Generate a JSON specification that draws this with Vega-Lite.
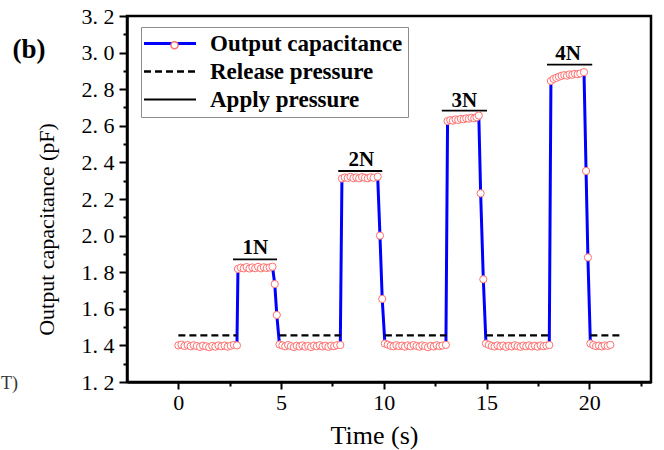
{
"$schema": "https://vega.github.io/schema/vega-lite/v6.json",
"width": 524, "height": 366,
"autosize": {"type": "none"},
"padding": {"left": 127, "top": 16, "right": 13, "bottom": 68},
"background": "white",
"config": {
  "font": "Liberation Serif",
  "view": {"stroke": "black", "strokeWidth": 2.5},
  "axis": {"grid": false, "domainColor": "black", "tickColor": "black", "labelColor": "black", "titleColor": "black", "labelFont": "Liberation Serif", "titleFont": "Liberation Serif", "titleFontWeight": "normal", "labelOverlap": false, "labelFlush": false}
},
"datasets": {
  "lines": [
    {"s":"Output capacitance","g":"c","t":0,"c":1.400},
    {"s":"Output capacitance","g":"c","t":0.15,"c":1.404},
    {"s":"Output capacitance","g":"c","t":0.3,"c":1.397},
    {"s":"Output capacitance","g":"c","t":0.45,"c":1.402},
    {"s":"Output capacitance","g":"c","t":0.6,"c":1.395},
    {"s":"Output capacitance","g":"c","t":0.75,"c":1.401},
    {"s":"Output capacitance","g":"c","t":0.9,"c":1.396},
    {"s":"Output capacitance","g":"c","t":1.05,"c":1.392},
    {"s":"Output capacitance","g":"c","t":1.2,"c":1.399},
    {"s":"Output capacitance","g":"c","t":1.35,"c":1.395},
    {"s":"Output capacitance","g":"c","t":1.5,"c":1.390},
    {"s":"Output capacitance","g":"c","t":1.65,"c":1.397},
    {"s":"Output capacitance","g":"c","t":1.8,"c":1.393},
    {"s":"Output capacitance","g":"c","t":1.95,"c":1.400},
    {"s":"Output capacitance","g":"c","t":2.1,"c":1.395},
    {"s":"Output capacitance","g":"c","t":2.25,"c":1.399},
    {"s":"Output capacitance","g":"c","t":2.4,"c":1.393},
    {"s":"Output capacitance","g":"c","t":2.55,"c":1.398},
    {"s":"Output capacitance","g":"c","t":2.7,"c":1.403},
    {"s":"Output capacitance","g":"c","t":2.85,"c":1.400},
    {"s":"Output capacitance","g":"c","t":2.9,"c":1.818},
    {"s":"Output capacitance","g":"c","t":3.04,"c":1.825},
    {"s":"Output capacitance","g":"c","t":3.18,"c":1.821},
    {"s":"Output capacitance","g":"c","t":3.32,"c":1.828},
    {"s":"Output capacitance","g":"c","t":3.46,"c":1.820},
    {"s":"Output capacitance","g":"c","t":3.6,"c":1.826},
    {"s":"Output capacitance","g":"c","t":3.74,"c":1.822},
    {"s":"Output capacitance","g":"c","t":3.88,"c":1.829},
    {"s":"Output capacitance","g":"c","t":4.02,"c":1.821},
    {"s":"Output capacitance","g":"c","t":4.16,"c":1.827},
    {"s":"Output capacitance","g":"c","t":4.3,"c":1.823},
    {"s":"Output capacitance","g":"c","t":4.44,"c":1.826},
    {"s":"Output capacitance","g":"c","t":4.58,"c":1.830},
    {"s":"Output capacitance","g":"c","t":4.69,"c":1.735},
    {"s":"Output capacitance","g":"c","t":4.79,"c":1.566},
    {"s":"Output capacitance","g":"c","t":4.92,"c":1.405},
    {"s":"Output capacitance","g":"c","t":5.06,"c":1.400},
    {"s":"Output capacitance","g":"c","t":5.2,"c":1.395},
    {"s":"Output capacitance","g":"c","t":5.34,"c":1.402},
    {"s":"Output capacitance","g":"c","t":5.48,"c":1.396},
    {"s":"Output capacitance","g":"c","t":5.62,"c":1.391},
    {"s":"Output capacitance","g":"c","t":5.76,"c":1.398},
    {"s":"Output capacitance","g":"c","t":5.9,"c":1.394},
    {"s":"Output capacitance","g":"c","t":6.04,"c":1.400},
    {"s":"Output capacitance","g":"c","t":6.18,"c":1.393},
    {"s":"Output capacitance","g":"c","t":6.32,"c":1.397},
    {"s":"Output capacitance","g":"c","t":6.46,"c":1.391},
    {"s":"Output capacitance","g":"c","t":6.6,"c":1.399},
    {"s":"Output capacitance","g":"c","t":6.74,"c":1.395},
    {"s":"Output capacitance","g":"c","t":6.88,"c":1.401},
    {"s":"Output capacitance","g":"c","t":7.02,"c":1.394},
    {"s":"Output capacitance","g":"c","t":7.16,"c":1.398},
    {"s":"Output capacitance","g":"c","t":7.3,"c":1.392},
    {"s":"Output capacitance","g":"c","t":7.44,"c":1.399},
    {"s":"Output capacitance","g":"c","t":7.58,"c":1.396},
    {"s":"Output capacitance","g":"c","t":7.72,"c":1.401},
    {"s":"Output capacitance","g":"c","t":7.88,"c":1.402},
    {"s":"Output capacitance","g":"c","t":7.96,"c":2.312},
    {"s":"Output capacitance","g":"c","t":8.1,"c":2.318},
    {"s":"Output capacitance","g":"c","t":8.24,"c":2.315},
    {"s":"Output capacitance","g":"c","t":8.38,"c":2.321},
    {"s":"Output capacitance","g":"c","t":8.52,"c":2.314},
    {"s":"Output capacitance","g":"c","t":8.66,"c":2.318},
    {"s":"Output capacitance","g":"c","t":8.8,"c":2.313},
    {"s":"Output capacitance","g":"c","t":8.94,"c":2.320},
    {"s":"Output capacitance","g":"c","t":9.08,"c":2.316},
    {"s":"Output capacitance","g":"c","t":9.22,"c":2.313},
    {"s":"Output capacitance","g":"c","t":9.36,"c":2.319},
    {"s":"Output capacitance","g":"c","t":9.5,"c":2.316},
    {"s":"Output capacitance","g":"c","t":9.7,"c":2.322},
    {"s":"Output capacitance","g":"c","t":9.81,"c":2.000},
    {"s":"Output capacitance","g":"c","t":9.92,"c":1.654},
    {"s":"Output capacitance","g":"c","t":10.05,"c":1.410},
    {"s":"Output capacitance","g":"c","t":10.19,"c":1.404},
    {"s":"Output capacitance","g":"c","t":10.33,"c":1.398},
    {"s":"Output capacitance","g":"c","t":10.47,"c":1.395},
    {"s":"Output capacitance","g":"c","t":10.61,"c":1.401},
    {"s":"Output capacitance","g":"c","t":10.75,"c":1.396},
    {"s":"Output capacitance","g":"c","t":10.89,"c":1.399},
    {"s":"Output capacitance","g":"c","t":11.03,"c":1.393},
    {"s":"Output capacitance","g":"c","t":11.17,"c":1.400},
    {"s":"Output capacitance","g":"c","t":11.31,"c":1.395},
    {"s":"Output capacitance","g":"c","t":11.45,"c":1.402},
    {"s":"Output capacitance","g":"c","t":11.59,"c":1.397},
    {"s":"Output capacitance","g":"c","t":11.73,"c":1.393},
    {"s":"Output capacitance","g":"c","t":11.87,"c":1.400},
    {"s":"Output capacitance","g":"c","t":12.01,"c":1.396},
    {"s":"Output capacitance","g":"c","t":12.15,"c":1.390},
    {"s":"Output capacitance","g":"c","t":12.29,"c":1.398},
    {"s":"Output capacitance","g":"c","t":12.43,"c":1.394},
    {"s":"Output capacitance","g":"c","t":12.57,"c":1.401},
    {"s":"Output capacitance","g":"c","t":12.71,"c":1.396},
    {"s":"Output capacitance","g":"c","t":12.85,"c":1.399},
    {"s":"Output capacitance","g":"c","t":13.02,"c":1.403},
    {"s":"Output capacitance","g":"c","t":13.1,"c":2.626},
    {"s":"Output capacitance","g":"c","t":13.23,"c":2.631},
    {"s":"Output capacitance","g":"c","t":13.36,"c":2.628},
    {"s":"Output capacitance","g":"c","t":13.49,"c":2.635},
    {"s":"Output capacitance","g":"c","t":13.62,"c":2.632},
    {"s":"Output capacitance","g":"c","t":13.75,"c":2.638},
    {"s":"Output capacitance","g":"c","t":13.88,"c":2.636},
    {"s":"Output capacitance","g":"c","t":14.01,"c":2.641},
    {"s":"Output capacitance","g":"c","t":14.14,"c":2.639},
    {"s":"Output capacitance","g":"c","t":14.27,"c":2.644},
    {"s":"Output capacitance","g":"c","t":14.4,"c":2.641},
    {"s":"Output capacitance","g":"c","t":14.51,"c":2.647},
    {"s":"Output capacitance","g":"c","t":14.62,"c":2.656},
    {"s":"Output capacitance","g":"c","t":14.71,"c":2.231},
    {"s":"Output capacitance","g":"c","t":14.84,"c":1.761},
    {"s":"Output capacitance","g":"c","t":14.97,"c":1.410},
    {"s":"Output capacitance","g":"c","t":15.11,"c":1.403},
    {"s":"Output capacitance","g":"c","t":15.25,"c":1.397},
    {"s":"Output capacitance","g":"c","t":15.39,"c":1.394},
    {"s":"Output capacitance","g":"c","t":15.53,"c":1.400},
    {"s":"Output capacitance","g":"c","t":15.67,"c":1.395},
    {"s":"Output capacitance","g":"c","t":15.81,"c":1.399},
    {"s":"Output capacitance","g":"c","t":15.95,"c":1.392},
    {"s":"Output capacitance","g":"c","t":16.09,"c":1.398},
    {"s":"Output capacitance","g":"c","t":16.23,"c":1.394},
    {"s":"Output capacitance","g":"c","t":16.37,"c":1.401},
    {"s":"Output capacitance","g":"c","t":16.51,"c":1.396},
    {"s":"Output capacitance","g":"c","t":16.65,"c":1.392},
    {"s":"Output capacitance","g":"c","t":16.79,"c":1.399},
    {"s":"Output capacitance","g":"c","t":16.93,"c":1.395},
    {"s":"Output capacitance","g":"c","t":17.07,"c":1.400},
    {"s":"Output capacitance","g":"c","t":17.21,"c":1.394},
    {"s":"Output capacitance","g":"c","t":17.35,"c":1.398},
    {"s":"Output capacitance","g":"c","t":17.49,"c":1.393},
    {"s":"Output capacitance","g":"c","t":17.63,"c":1.400},
    {"s":"Output capacitance","g":"c","t":17.77,"c":1.396},
    {"s":"Output capacitance","g":"c","t":17.91,"c":1.399},
    {"s":"Output capacitance","g":"c","t":18.05,"c":1.402},
    {"s":"Output capacitance","g":"c","t":18.13,"c":2.845},
    {"s":"Output capacitance","g":"c","t":18.26,"c":2.856},
    {"s":"Output capacitance","g":"c","t":18.39,"c":2.862},
    {"s":"Output capacitance","g":"c","t":18.52,"c":2.868},
    {"s":"Output capacitance","g":"c","t":18.65,"c":2.873},
    {"s":"Output capacitance","g":"c","t":18.78,"c":2.877},
    {"s":"Output capacitance","g":"c","t":18.91,"c":2.874},
    {"s":"Output capacitance","g":"c","t":19.04,"c":2.881},
    {"s":"Output capacitance","g":"c","t":19.17,"c":2.879},
    {"s":"Output capacitance","g":"c","t":19.3,"c":2.884},
    {"s":"Output capacitance","g":"c","t":19.43,"c":2.882},
    {"s":"Output capacitance","g":"c","t":19.56,"c":2.886},
    {"s":"Output capacitance","g":"c","t":19.74,"c":2.893},
    {"s":"Output capacitance","g":"c","t":19.84,"c":2.353},
    {"s":"Output capacitance","g":"c","t":19.93,"c":1.881},
    {"s":"Output capacitance","g":"c","t":20.05,"c":1.410},
    {"s":"Output capacitance","g":"c","t":20.19,"c":1.402},
    {"s":"Output capacitance","g":"c","t":20.33,"c":1.396},
    {"s":"Output capacitance","g":"c","t":20.47,"c":1.399},
    {"s":"Output capacitance","g":"c","t":20.61,"c":1.394},
    {"s":"Output capacitance","g":"c","t":20.75,"c":1.400},
    {"s":"Output capacitance","g":"c","t":20.89,"c":1.397},
    {"s":"Output capacitance","g":"c","t":21.02,"c":1.403},
    {"s":"Release pressure","g":"r1","t":0,"c":1.455},
    {"s":"Release pressure","g":"r1","t":2.85,"c":1.455},
    {"s":"Release pressure","g":"r2","t":4.92,"c":1.455},
    {"s":"Release pressure","g":"r2","t":7.9,"c":1.455},
    {"s":"Release pressure","g":"r3","t":10.05,"c":1.455},
    {"s":"Release pressure","g":"r3","t":13.05,"c":1.455},
    {"s":"Release pressure","g":"r4","t":14.97,"c":1.455},
    {"s":"Release pressure","g":"r4","t":18.05,"c":1.455},
    {"s":"Release pressure","g":"r5","t":20.05,"c":1.455},
    {"s":"Release pressure","g":"r5","t":21.65,"c":1.455},
    {"s":"Apply pressure","g":"a1","t":2.66,"c":1.870},
    {"s":"Apply pressure","g":"a1","t":4.8,"c":1.870},
    {"s":"Apply pressure","g":"a2","t":7.78,"c":2.353},
    {"s":"Apply pressure","g":"a2","t":9.92,"c":2.353},
    {"s":"Apply pressure","g":"a3","t":12.82,"c":2.683},
    {"s":"Apply pressure","g":"a3","t":15.02,"c":2.683},
    {"s":"Apply pressure","g":"a4","t":17.94,"c":2.934},
    {"s":"Apply pressure","g":"a4","t":20.14,"c":2.934}
  ],
  "labels": [
    {"lab":"1N","t":3.74,"c":1.899},
    {"lab":"2N","t":8.9,"c":2.380},
    {"lab":"3N","t":13.91,"c":2.704},
    {"lab":"4N","t":18.97,"c":2.960}
  ]
},
"layer": [
  {
    "data": {"name": "lines"},
    "mark": {"type": "line", "strokeCap": "butt"},
    "encoding": {
      "x": {"field": "t", "type": "quantitative", "scale": {"domain": [-2.5, 23], "nice": false, "zero": false},
        "axis": {"orient": "bottom", "values": [0, 5, 10, 15, 20], "format": "d", "tickSize": 7, "tickWidth": 2, "domainWidth": 2.5, "labelFontSize": 22, "labelPadding": 3, "title": "Time (s)", "titleFontSize": 26, "titleX": 247, "titleY": 61, "titleBaseline": "alphabetic", "titleAlign": "center"}},
      "y": {"field": "c", "type": "quantitative", "scale": {"domain": [1.2, 3.2], "nice": false, "zero": false},
        "axis": {"orient": "left", "values": [1.2, 1.4, 1.6, 1.8, 2.0, 2.2, 2.4, 2.6, 2.8, 3.0, 3.2], "labelExpr": "replace(format(datum.value, '.1f'), '.', '. ')", "tickSize": 8, "tickWidth": 2, "domainWidth": 2.5, "labelFontSize": 22, "labelPadding": 5, "title": "Output capacitance (pF)", "titleFontSize": 22, "titleX": -74, "titleY": 213, "titleAngle": 270, "titleBaseline": "alphabetic", "titleAlign": "center"}},
      "color": {"field": "s", "type": "nominal", "scale": {"domain": ["Output capacitance", "Release pressure", "Apply pressure"], "range": ["#0000ff", "#000000", "#000000"]},
        "legend": {"orient": "none", "legendX": 14, "legendY": 11, "title": null, "direction": "vertical", "strokeColor": "#8c8c8c", "fillColor": "white", "padding": 5, "rowPadding": 4, "labelFont": "Liberation Serif", "labelFontWeight": "bold", "labelFontSize": 23, "labelColor": "black", "labelLimit": 400, "symbolType": "M-4,0L4,0", "symbolSize": 169,
          "encode": {"symbols": {"update": {"x": {"value": 24}, "size": {"value": 169}}}, "labels": {"update": {"x": {"value": 64}}}}}},
      "strokeDash": {"field": "s", "type": "nominal", "scale": {"domain": ["Output capacitance", "Release pressure", "Apply pressure"], "range": [[1, 0], [7, 4], [1, 0]]},
        "legend": {"orient": "none", "legendX": 14, "legendY": 11, "title": null, "direction": "vertical", "strokeColor": "#8c8c8c", "fillColor": "white", "padding": 5, "rowPadding": 4, "labelFont": "Liberation Serif", "labelFontWeight": "bold", "labelFontSize": 23, "labelColor": "black", "labelLimit": 400, "symbolType": "M-4,0L4,0", "symbolSize": 169,
          "encode": {"symbols": {"update": {"x": {"value": 24}, "size": {"value": 169}}}, "labels": {"update": {"x": {"value": 64}}}}}},
      "strokeWidth": {"field": "s", "type": "nominal", "scale": {"domain": ["Output capacitance", "Release pressure", "Apply pressure"], "range": [3, 1.8, 2]},
        "legend": {"orient": "none", "legendX": 14, "legendY": 11, "title": null, "direction": "vertical", "strokeColor": "#8c8c8c", "fillColor": "white", "padding": 5, "rowPadding": 4, "labelFont": "Liberation Serif", "labelFontWeight": "bold", "labelFontSize": 23, "labelColor": "black", "labelLimit": 400, "symbolType": "M-4,0L4,0", "symbolSize": 169,
          "encode": {"symbols": {"update": {"x": {"value": 24}, "size": {"value": 169}}}, "labels": {"update": {"x": {"value": 64}}}}}},
      "detail": {"field": "g", "type": "nominal"}
    }
  },
  {
    "data": {"name": "lines"},
    "transform": [{"filter": "datum.s === 'Output capacitance'"}],
    "mark": {"type": "point", "shape": "circle", "filled": true, "fill": "white", "stroke": "#ff7070", "strokeWidth": 1, "size": 52, "opacity": 1},
    "encoding": {
      "x": {"field": "t", "type": "quantitative", "scale": {"domain": [-2.5, 23], "nice": false, "zero": false},
        "axis": {"orient": "bottom", "values": [2.5, 7.5, 12.5, 17.5, 22.5], "labels": false, "domain": false, "tickSize": 4, "tickWidth": 2, "title": null}},
      "y": {"field": "c", "type": "quantitative", "scale": {"domain": [1.2, 3.2], "nice": false, "zero": false},
        "axis": {"orient": "left", "values": [1.3, 1.5, 1.7, 1.9, 2.1, 2.3, 2.5, 2.7, 2.9, 3.1], "labels": false, "domain": false, "tickSize": 4, "tickWidth": 2, "title": null}},
      "shape": {"field": "s", "type": "nominal", "scale": {"domain": ["Output capacitance"], "range": ["circle"]},
        "legend": {"orient": "none", "legendX": 42.5, "legendY": 24.3, "title": null, "padding": 0, "labelExpr": "''", "symbolSize": 50,
          "encode": {"symbols": {"update": {"size": {"value": 50}, "fill": {"value": "white"}, "stroke": {"value": "#ff7070"}, "strokeWidth": {"value": 1.2}}}}}}
    }
  },
  {
    "data": {"name": "labels"},
    "mark": {"type": "text", "font": "Liberation Serif", "fontWeight": "bold", "fontSize": 21, "align": "center", "baseline": "alphabetic", "color": "black"},
    "encoding": {
      "x": {"field": "t", "type": "quantitative", "scale": {"domain": [-2.5, 23], "nice": false, "zero": false}, "axis": null},
      "y": {"field": "c", "type": "quantitative", "scale": {"domain": [1.2, 3.2], "nice": false, "zero": false}, "axis": null},
      "text": {"field": "lab"}
    }
  },
  {
    "data": {"values": [{"lab": "(b)", "t": -7.27, "c": 2.97}]},
    "mark": {"type": "text", "font": "Liberation Serif", "fontWeight": "bold", "fontSize": 27, "align": "center", "baseline": "alphabetic", "color": "black"},
    "encoding": {
      "x": {"field": "t", "type": "quantitative", "scale": {"domain": [-2.5, 23], "nice": false, "zero": false}, "axis": null},
      "y": {"field": "c", "type": "quantitative", "scale": {"domain": [1.2, 3.2], "nice": false, "zero": false}, "axis": null},
      "text": {"field": "lab"}
    }
  },
  {
    "data": {"values": [{"lab": "T)", "t": -8.63, "c": 1.162}]},
    "mark": {"type": "text", "font": "Liberation Serif", "fontSize": 18, "align": "left", "baseline": "alphabetic", "color": "#333333"},
    "encoding": {
      "x": {"field": "t", "type": "quantitative", "scale": {"domain": [-2.5, 23], "nice": false, "zero": false}, "axis": null},
      "y": {"field": "c", "type": "quantitative", "scale": {"domain": [1.2, 3.2], "nice": false, "zero": false}, "axis": null},
      "text": {"field": "lab"}
    }
  }
],
"resolve": {"axis": {"x": "independent", "y": "independent"}}
}
